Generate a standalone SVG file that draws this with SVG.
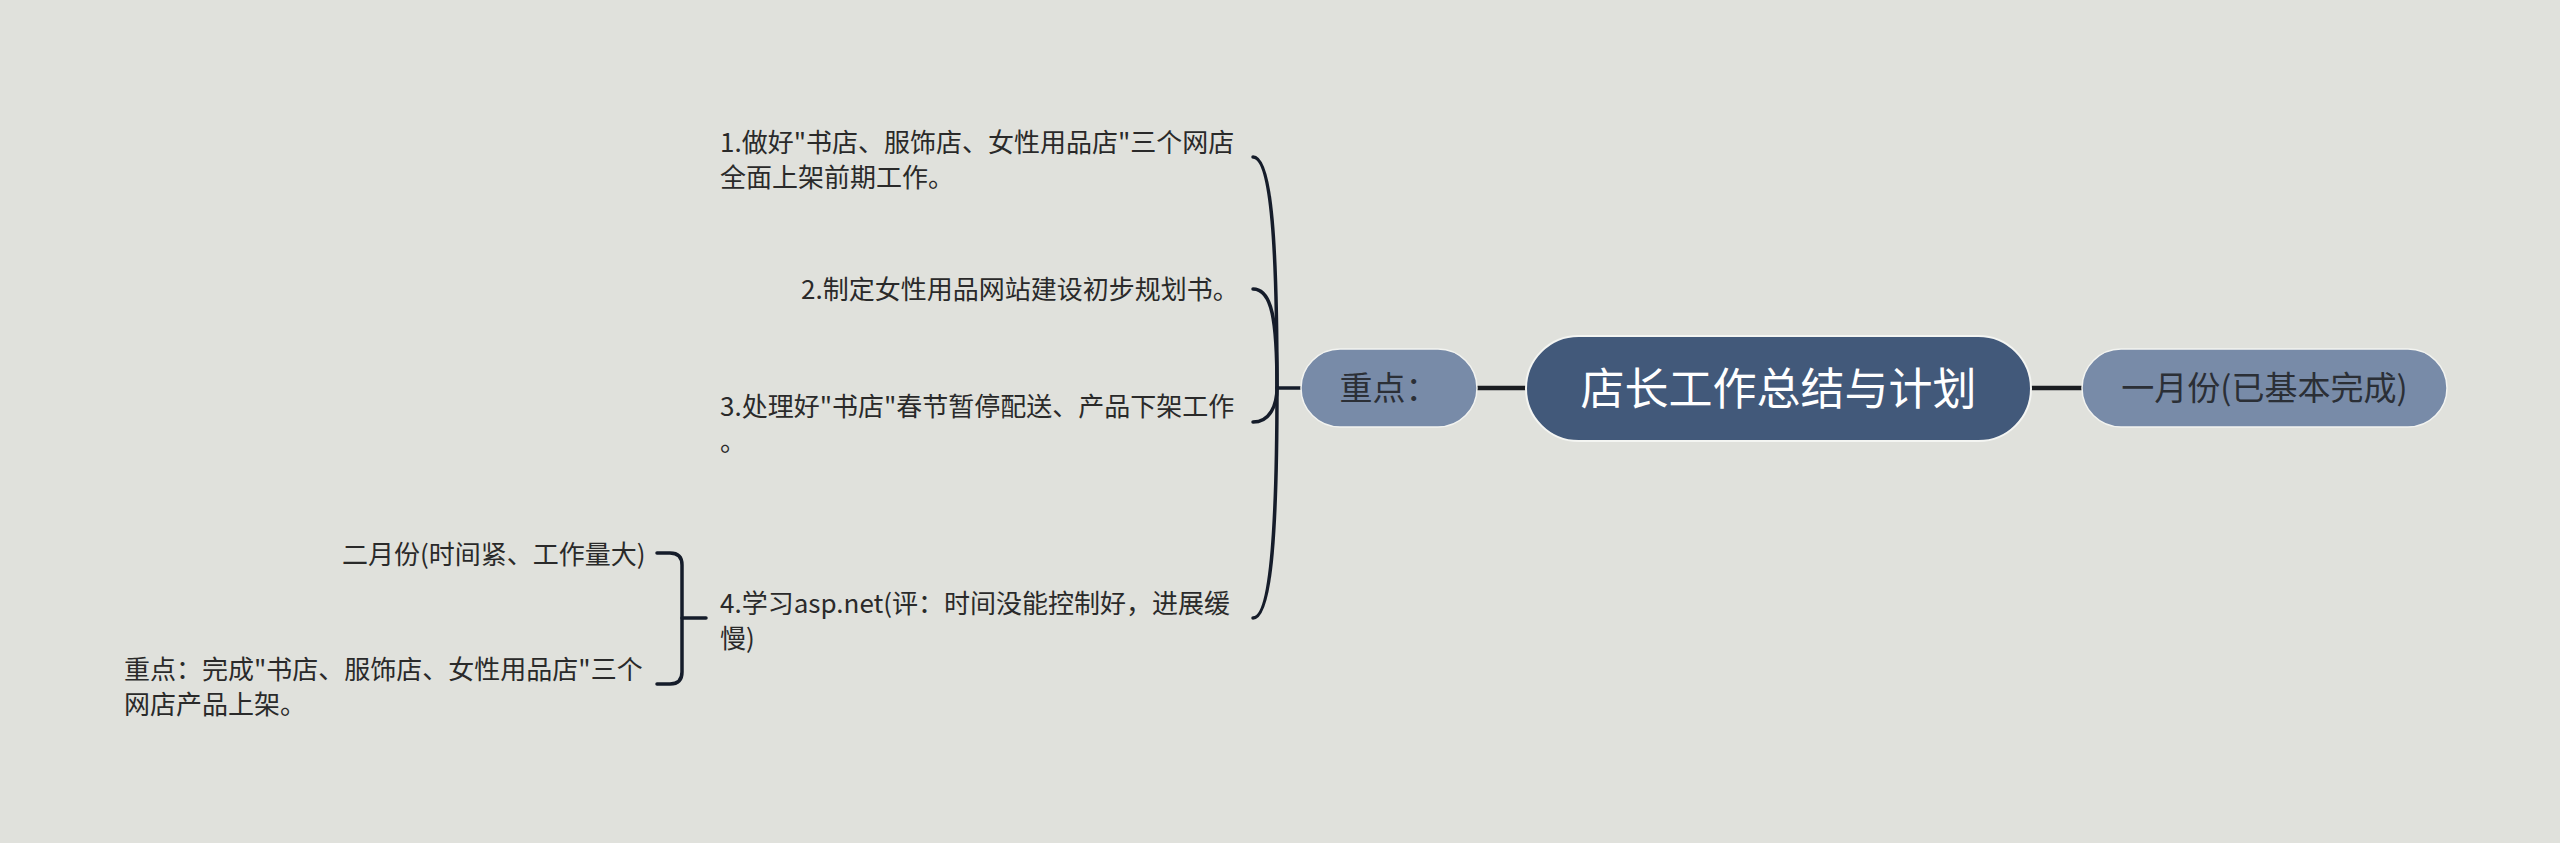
<svg xmlns="http://www.w3.org/2000/svg" width="2560" height="843" viewBox="0 0 2560 843">
<style>
.t{font-family:"Noto Sans CJK SC","Noto Sans",sans-serif;font-size:26px;fill:#2a2a2a}
.side rect{fill:#788ba8;stroke:#f2f3f0;stroke-width:1.5}
.side text{font-family:"Noto Sans CJK SC","Noto Sans",sans-serif;font-size:33px;fill:#2b2f36;text-anchor:middle}
.conn path{fill:none;stroke:#151c2a;stroke-width:3.5;stroke-linecap:round}
.thick{stroke:#1a1c20 !important;stroke-width:4.5 !important;stroke-linecap:butt !important}
</style>
<rect width="2560" height="843" fill="#e0e1dc"/>
<g id="connectors" class="conn">
<path class="thick" d="M1477,388 H1526"/>
<path class="thick" d="M2031,388 H2082"/>
<path d="M1301,388 H1277"/>
<path d="M1277,388 C1277,250 1272,157 1253,157"/>
<path d="M1277,388 C1277,320 1272,289 1253,289"/>
<path d="M1277,388 C1277,405 1270,422 1253,422"/>
<path d="M1277,388 C1277,520 1272,618 1253,618"/>
<path d="M706,618 H682"/>
<path d="M657,553 H670 Q682,553 682,565 V672 Q682,684 670,684 H657"/>
</g>
<g id="center">
<rect x="1526" y="336" width="505" height="105" rx="52.5" fill="#42597a" stroke="#f4f5f2" stroke-width="2"/>
<text x="1778.5" y="405" font-family="'Noto Sans CJK SC','Noto Sans',sans-serif" font-size="44" fill="#ffffff" text-anchor="middle">店长工作总结与计划</text>
</g>
<g id="node-zhongdian" class="side">
<rect x="1301" y="349" width="176" height="78" rx="39"/>
<text x="1389" y="400">重点：</text>
</g>
<g id="node-yiyue" class="side">
<rect x="2082" y="349" width="365" height="78" rx="39"/>
<text x="2264.5" y="400">一月份(已基本完成)</text>
</g>
<g id="item-1">
<text class="t" x="720" y="152">1.做好"书店、服饰店、女性用品店"三个网店</text>
<text class="t" x="720" y="187">全面上架前期工作。</text>
</g>
<g id="item-2">
<text class="t" x="801" y="299">2.制定女性用品网站建设初步规划书。</text>
</g>
<g id="item-3">
<text class="t" x="720" y="416">3.处理好"书店"春节暂停配送、产品下架工作</text>
<text class="t" x="720" y="451">。</text>
</g>
<g id="item-4">
<text class="t" x="720" y="613">4.学习asp.net(评：时间没能控制好，进展缓</text>
<text class="t" x="720" y="648">慢)</text>
</g>
<g id="item-4a">
<text class="t" x="342" y="564">二月份(时间紧、工作量大)</text>
</g>
<g id="item-4b">
<text class="t" x="124" y="679">重点：完成"书店、服饰店、女性用品店"三个</text>
<text class="t" x="124" y="714">网店产品上架。</text>
</g>
</svg>
